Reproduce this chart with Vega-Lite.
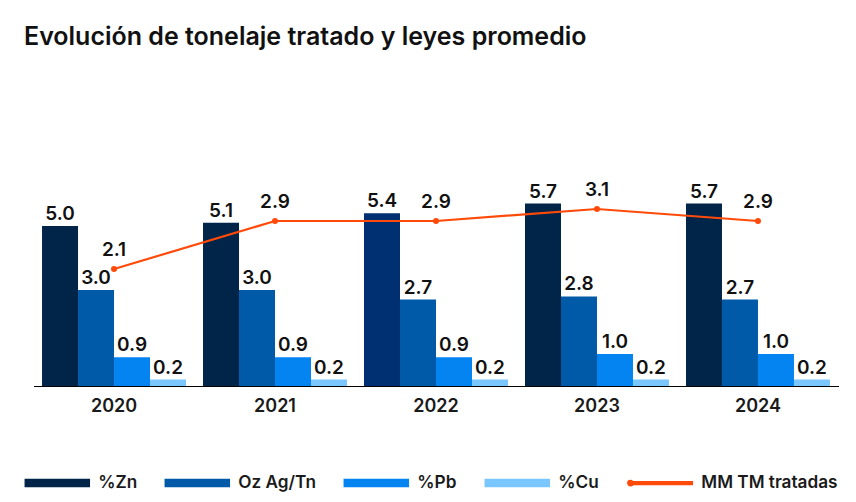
{
  "$schema": "https://vega.github.io/schema/vega-lite/v6.json",
  "width": 805,
  "height": 236,
  "autosize": {"type": "none"},
  "padding": {"left": 33.5, "top": 150, "right": 17.5, "bottom": 116},
  "background": "white",
  "config": {
    "font": "Inter",
    "view": {"stroke": null},
    "legend": {
      "orient": "none",
      "legendX": -9.2,
      "legendY": 299.7,
      "direction": "horizontal",
      "columns": 5,
      "title": null,
      "labelFont": "Inter",
      "labelFontSize": 17.2,
      "labelFontWeight": 600,
      "labelColor": "#1a1a1a",
      "symbolSize": 4096,
      "labelOffset": 8,
      "columnPadding": 25
    }
  },
  "title": {
    "text": "Evolución de tonelaje tratado y leyes promedio",
    "anchor": "start",
    "frame": "group",
    "fontSize": 25,
    "fontWeight": 600,
    "color": "#111111",
    "font": "Inter",
    "dx": -9.5,
    "offset": 100
  },
  "datasets": {
    "barras": [
      {"year": "2020", "serie": "%Zn", "valor": 5.0},
      {"year": "2020", "serie": "Oz Ag/Tn", "valor": 3.0},
      {"year": "2020", "serie": "%Pb", "valor": 0.9},
      {"year": "2020", "serie": "%Cu", "valor": 0.2},
      {"year": "2021", "serie": "%Zn", "valor": 5.1},
      {"year": "2021", "serie": "Oz Ag/Tn", "valor": 3.0},
      {"year": "2021", "serie": "%Pb", "valor": 0.9},
      {"year": "2021", "serie": "%Cu", "valor": 0.2},
      {"year": "2022", "serie": "%Zn", "valor": 5.4},
      {"year": "2022", "serie": "Oz Ag/Tn", "valor": 2.7},
      {"year": "2022", "serie": "%Pb", "valor": 0.9},
      {"year": "2022", "serie": "%Cu", "valor": 0.2},
      {"year": "2023", "serie": "%Zn", "valor": 5.7},
      {"year": "2023", "serie": "Oz Ag/Tn", "valor": 2.8},
      {"year": "2023", "serie": "%Pb", "valor": 1.0},
      {"year": "2023", "serie": "%Cu", "valor": 0.2},
      {"year": "2024", "serie": "%Zn", "valor": 5.7},
      {"year": "2024", "serie": "Oz Ag/Tn", "valor": 2.7},
      {"year": "2024", "serie": "%Pb", "valor": 1.0},
      {"year": "2024", "serie": "%Cu", "valor": 0.2}
    ],
    "linea": [
      {"year": "2020", "serie": "MM TM tratadas", "valor": 2.1},
      {"year": "2021", "serie": "MM TM tratadas", "valor": 2.9},
      {"year": "2022", "serie": "MM TM tratadas", "valor": 2.9},
      {"year": "2023", "serie": "MM TM tratadas", "valor": 3.1},
      {"year": "2024", "serie": "MM TM tratadas", "valor": 2.9}
    ]
  },
  "encoding": {
    "x": {
      "field": "year",
      "type": "nominal",
      "scale": {"paddingInner": 0.1056, "paddingOuter": 0.053},
      "axis": {
        "title": null,
        "labelAngle": 0,
        "ticks": false,
        "domainColor": "#000000",
        "domainWidth": 1,
        "labelFont": "Inter",
        "labelFontSize": 18,
        "labelFontWeight": 600,
        "labelColor": "#1a1a1a",
        "labelPadding": 11
      }
    }
  },
  "layer": [
    {
      "data": {"name": "barras"},
      "layer": [
        {
          "mark": {"type": "bar"},
          "encoding": {
            "xOffset": {"field": "serie", "type": "nominal", "sort": ["%Zn", "Oz Ag/Tn", "%Pb", "%Cu"], "scale": {"paddingInner": 0, "paddingOuter": 0}},
            "y": {"field": "valor", "type": "quantitative", "scale": {"domain": [0, 7.375]}, "axis": null},
            "color": {
              "condition": {"test": "datum.year == '2022' && datum.serie == '%Zn'", "value": "#002f72"},
              "field": "serie",
              "type": "nominal",
              "scale": {
                "domain": ["%Zn", "Oz Ag/Tn", "%Pb", "%Cu", "MM TM tratadas"],
                "range": ["#012548", "#015aa8", "#0384f0", "#7ac6fe", "#ff4a0a"]
              },
              "legend": {
                "encode": {
                  "symbols": {
                    "update": {
                      "shape": {"signal": "datum.value === 'MM TM tratadas' ? 'M-1.015,0A0.085,0.085,0,1,0,-0.845,0A0.085,0.085,0,1,0,-1.015,0Z M-0.845,-0.04H1V0.04H-0.845Z' : 'M-1,-0.109H1V0.109H-1Z'"},
                      "fill": {"scale": "color", "field": "value"},
                      "stroke": {"value": "transparent"},
                      "opacity": {"value": 1}
                    }
                  }
                }
              }
            }
          }
        },
        {
          "mark": {"type": "text", "baseline": "alphabetic", "dy": -6, "fontSize": 19, "fontWeight": 600, "color": "#111111", "font": "Inter"},
          "encoding": {
            "xOffset": {"field": "serie", "type": "nominal", "sort": ["%Zn", "Oz Ag/Tn", "%Pb", "%Cu"]},
            "y": {"field": "valor", "type": "quantitative", "scale": {"domain": [0, 7.375]}, "axis": null},
            "text": {"field": "valor", "type": "quantitative", "format": ".1f"}
          }
        }
      ]
    },
    {
      "data": {"name": "linea"},
      "layer": [
        {
          "mark": {"type": "line", "strokeWidth": 2.2},
          "encoding": {
            "y": {"field": "valor", "type": "quantitative", "scale": {"domain": [0.15, 4.083]}, "axis": null},
            "color": {"field": "serie", "type": "nominal"}
          }
        },
        {
          "mark": {"type": "point", "filled": true, "size": 36, "opacity": 1},
          "encoding": {
            "y": {"field": "valor", "type": "quantitative", "scale": {"domain": [0.15, 4.083]}, "axis": null},
            "color": {"field": "serie", "type": "nominal"}
          }
        },
        {
          "mark": {"type": "text", "baseline": "alphabetic", "dy": -13, "fontSize": 19, "fontWeight": 600, "color": "#111111", "font": "Inter"},
          "encoding": {
            "y": {"field": "valor", "type": "quantitative", "scale": {"domain": [0.15, 4.083]}, "axis": null},
            "text": {"field": "valor", "type": "quantitative", "format": ".1f"}
          }
        }
      ],
      "resolve": {"scale": {"y": "shared"}}
    }
  ],
  "resolve": {"scale": {"y": "independent"}}
}
